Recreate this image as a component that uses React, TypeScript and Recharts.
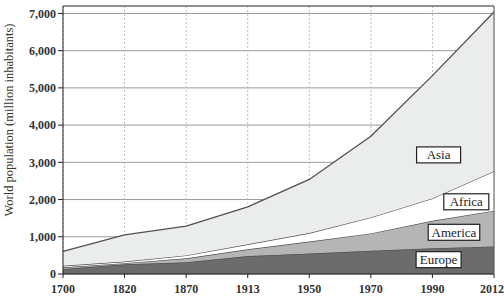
import React from "react";
import { AreaChart, Area, XAxis, YAxis, CartesianGrid, ReferenceLine, ReferenceDot } from "recharts";

const years = ["1700", "1820", "1870", "1913", "1950", "1970", "1990", "2012"];
const europe = [134, 260, 313, 482, 550, 625, 690, 742];
const america = [46, 30, 107, 180, 320, 465, 740, 958];
const africa = [42, 45, 80, 134, 230, 430, 600, 1060];
const asia = [388, 715, 787, 1009, 1440, 2180, 3300, 4280];
const yTicks = [0, 1000, 2000, 3000, 4000, 5000, 6000, 7000];

const data = years.map((year, i) => ({
  idx: i,
  year,
  europe: europe[i],
  america: america[i],
  africa: africa[i],
  asia: asia[i],
}));

// where the boxed region names sit, in axis units
const regionLabels = [
  { name: "Asia", x: 6.1, y: 3200 },
  { name: "Africa", x: 6.55, y: 1940 },
  { name: "America", x: 6.35, y: 1120 },
  { name: "Europe", x: 6.1, y: 385 },
];

const FONT = '"Liberation Serif", "DejaVu Serif", serif';
const LINE = "#505050";

function BoxLabel(props: any) {
  const { cx, cy, name } = props;
  const w = Math.max(44, name.length * 6.5 + 6);
  const h = 16;
  return (
    <g>
      <rect x={cx - w / 2} y={cy - h / 2} width={w} height={h} fill="#fff" stroke="#222" strokeWidth={1.2} />
      <text x={cx} y={cy + 4.5} textAnchor="middle" fontFamily={FONT} fontSize={13} fill="#222">
        {name}
      </text>
    </g>
  );
}

function AxisTitle(props: any) {
  const { viewBox } = props;
  const x = viewBox.x + 13;
  const y = viewBox.y + viewBox.height / 2 - 20;
  return (
    <text x={x} y={y} transform={`rotate(-90 ${x} ${y})`} textAnchor="middle" fontFamily={FONT} fontSize={12.5} fill="#333">
      World population (million inhabitants)
    </text>
  );
}

export default function App() {
  return (
    <div style={{ width: 504, height: 305 }}>
      <style>{`body{margin:0}`}</style>
      <AreaChart width={504} height={305} data={data} margin={{ top: 6, right: 10, left: 0, bottom: 0 }}>
        <CartesianGrid vertical={false} stroke="#9a9a9a" strokeWidth={1} />
        <CartesianGrid horizontal={false} stroke="#bdbdbd" strokeDasharray="2 2" />
        <XAxis
          dataKey="idx"
          type="number"
          domain={[0, 7]}
          ticks={[0, 1, 2, 3, 4, 5, 6, 7]}
          tickFormatter={(v: number) => years[v]}
          height={31}
          tickSize={4}
          tickMargin={6}
          stroke="#222"
          tick={{ fontFamily: FONT, fontSize: 12, fontWeight: 700, fill: "#333" }}
        />
        <YAxis
          type="number"
          domain={[0, 7200]}
          ticks={yTicks}
          width={63}
          tickSize={5}
          tickMargin={2}
          stroke="#222"
          tickFormatter={(v: number) => v.toLocaleString("en-US")}
          tick={{ fontFamily: FONT, fontSize: 12, fontWeight: 700, fill: "#333" }}
          label={<AxisTitle />}
        />
        <Area dataKey="europe" stackId="p" type="linear" fill="#6c6c6c" fillOpacity={1} stroke={LINE} strokeWidth={1.3} isAnimationActive={false} />
        <Area dataKey="america" stackId="p" type="linear" fill="#b5b5b5" fillOpacity={1} stroke={LINE} strokeWidth={1.3} isAnimationActive={false} />
        <Area dataKey="africa" stackId="p" type="linear" fill="#ffffff" fillOpacity={1} stroke={LINE} strokeWidth={1.3} isAnimationActive={false} />
        <Area dataKey="asia" stackId="p" type="linear" fill="#ebeded" fillOpacity={1} stroke={LINE} strokeWidth={1.3} isAnimationActive={false} />
        <ReferenceLine y={7200} stroke="#555" strokeWidth={1} />
        <ReferenceLine x={7} stroke="#555" strokeWidth={1} />
        {regionLabels.map((l) => (
          <ReferenceDot key={l.name} x={l.x} y={l.y} r={0} shape={(p: any) => <BoxLabel {...p} name={l.name} />} />
        ))}
      </AreaChart>
    </div>
  );
}
